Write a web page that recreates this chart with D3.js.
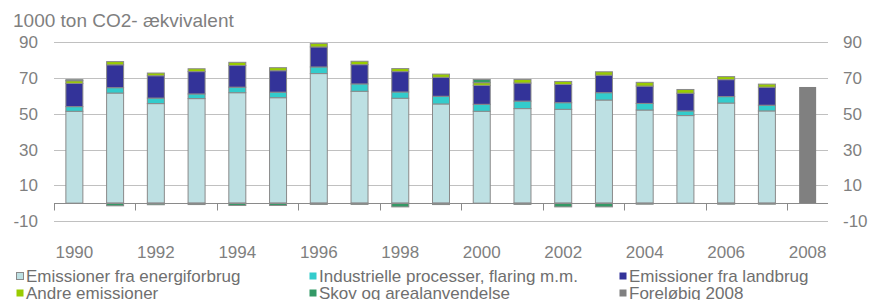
<!DOCTYPE html>
<meta charset="utf-8">
<script src="https://d3js.org/d3.v7.min.js"></script>
<style>
    body { margin: 0; background: #fff; }
    text { font-family: "Liberation Sans", Arial, sans-serif; }
</style>
<div id="chart"></div>
<script>
    var width = 870
    var height = 300

    // data (1000 ton CO2-eq)
    var years = [1990, 1991, 1992, 1993, 1994, 1995, 1996, 1997, 1998, 1999,
                 2000, 2001, 2002, 2003, 2004, 2005, 2006, 2007, 2008]
    var energi    = [51.4, 61.6, 55.7, 58.5, 61.8, 59.0, 72.5, 62.6, 58.7, 55.5, 51.4, 52.9, 52.5, 57.7, 52.1, 49.0, 56.0, 51.6, 0]
    var industri  = [2.6, 3.0, 3.1, 2.6, 3.1, 3.1, 3.7, 4.1, 3.5, 4.3, 3.9, 4.2, 3.7, 4.1, 3.7, 2.6, 3.6, 3.2, 0]
    var landbrug  = [13.0, 12.8, 12.5, 12.5, 12.1, 12.0, 11.2, 10.8, 11.4, 10.6, 10.6, 10.1, 10.2, 9.8, 9.7, 9.9, 9.5, 10.1, 0]
    var andre     = [1.5, 1.8, 1.5, 1.6, 1.8, 1.7, 1.9, 1.9, 1.7, 1.8, 1.5, 2.0, 1.7, 1.9, 2.1, 2.1, 1.7, 1.7, 0]
    var skov      = [0.6, -1.5, -0.9, -0.8, -1.3, -1.3, -0.7, -0.7, -2.1, -0.8, 1.8, -0.7, -2.1, -2.1, -0.6, 0, -0.6, -0.6, 0]
    var forelobig = [0, 0, 0, 0, 0, 0, 0, 0, 0, 0, 0, 0, 0, 0, 0, 0, 0, 0, 65.0]

    var yTicks = [90, 70, 50, 30, 10, -10]
    var xLabels = [1990, 1992, 1994, 1996, 1998, 2000, 2002, 2004, 2006, 2008]

    var series = [
        { key: "energi", name: "Emissioner fra energiforbrug", color: "#bde0e3", values: energi },
        { key: "industri", name: "Industrielle processer, flaring m.m.", color: "#33cccc", values: industri },
        { key: "landbrug", name: "Emissioner fra landbrug", color: "#333399", values: landbrug },
        { key: "andre", name: "Andre emissioner", color: "#99cc00", values: andre },
        { key: "skov", name: "Skov og arealanvendelse", color: "#339966", values: skov },
        { key: "forelobig", name: "Foreløbig 2008", color: "#808080", values: forelobig }
    ]

    var rows = years.map(function (y, i) {
        var r = { year: y }
        series.forEach(function (s) { r[s.key] = s.values[i] })
        return r
    })

    var svg = d3.select("#chart").append("svg")
        .attr("width", width)
        .attr("height", height)

    var x = d3.scaleBand()
        .domain(years)
        .range([54, 828])

    var y = d3.scaleLinear()
        .domain([-10, 90])
        .range([221, 42.3])

    var textColor = "#7f7f7f"

    // gridlines
    svg.append("g")
        .selectAll("line")
        .data(yTicks)
        .enter().append("line")
        .attr("x1", 54)
        .attr("x2", 828)
        .attr("y1", function (d) { return Math.round(y(d)) + 0.5 })
        .attr("y2", function (d) { return Math.round(y(d)) + 0.5 })
        .attr("stroke", "#c0c0c0")
        .attr("stroke-width", 1)

    // left + right value labels
    svg.append("g")
        .selectAll("text")
        .data(yTicks)
        .enter().append("text")
        .attr("x", 38)
        .attr("y", function (d) { return y(d) + 6 })
        .attr("text-anchor", "end")
        .attr("font-size", 17)
        .attr("fill", textColor)
        .text(function (d) { return d })

    svg.append("g")
        .selectAll("text")
        .data(yTicks)
        .enter().append("text")
        .attr("x", 843)
        .attr("y", function (d) { return y(d) + 6 })
        .attr("font-size", 17)
        .attr("fill", textColor)
        .text(function (d) { return d })

    // stacked bars
    var stack = d3.stack()
        .keys(series.map(function (s) { return s.key }))
        .offset(d3.stackOffsetDiverging)

    var stacked = stack(rows)
    var barW = 17

    svg.append("g")
        .selectAll("g")
        .data(stacked)
        .enter().append("g")
        .attr("fill", function (d, i) { return series[i].color })
        .attr("stroke", function (d, i) { return series[i].key == "forelobig" ? "none" : "#8a8a8a" })
        .attr("stroke-width", 1)
        .selectAll("rect")
        .data(function (d) { return d.filter(function (p) { return p[1] - p[0] != 0 }) })
        .enter().append("rect")
        .attr("x", function (d) { return x(d.data.year) + x.bandwidth() / 2 - barW / 2 })
        .attr("width", barW)
        .attr("y", function (d) { return y(Math.max(d[0], d[1])) })
        .attr("height", function (d) { return Math.abs(y(d[0]) - y(d[1])) })

    // category axis at zero
    var zeroY = Math.round(y(0)) + 0.5
    svg.append("line")
        .attr("x1", 54)
        .attr("x2", 828)
        .attr("y1", zeroY)
        .attr("y2", zeroY)
        .attr("stroke", "#8a8a8a")

    svg.append("g")
        .selectAll("line")
        .data(years.filter(function (d, i) { return i % 2 == 0 }))
        .enter().append("line")
        .attr("x1", function (d) { return Math.round(x(d)) + 0.5 })
        .attr("x2", function (d) { return Math.round(x(d)) + 0.5 })
        .attr("y1", zeroY)
        .attr("y2", zeroY + 7)
        .attr("stroke", "#8a8a8a")

    svg.append("g")
        .selectAll("text")
        .data(xLabels)
        .enter().append("text")
        .attr("x", function (d) { return x(d) + x.bandwidth() / 2 })
        .attr("y", 258)
        .attr("text-anchor", "middle")
        .attr("font-size", 17)
        .attr("fill", textColor)
        .text(function (d) { return d })

    // title
    svg.append("text")
        .attr("x", 13)
        .attr("y", 27)
        .attr("font-size", 19)
        .attr("fill", textColor)
        .text("1000 ton CO2- ækvivalent")

    // legend
    var legendPos = [[16, 272], [309, 272], [619, 272], [16, 289], [309, 289], [619, 289]]

    var legend = svg.append("g")
        .selectAll("g")
        .data(series)
        .enter().append("g")
        .attr("transform", function (d, i) { return "translate(" + legendPos[i][0] + "," + legendPos[i][1] + ")" })

    legend.append("rect")
        .attr("x", 0.5)
        .attr("y", 0.5)
        .attr("width", 7)
        .attr("height", 7)
        .attr("fill", function (d) { return d.color })
        .attr("stroke", function (d) { return d.key == "energi" ? "#8a8a8a" : "none" })

    legend.append("text")
        .attr("x", 10)
        .attr("y", 9.5)
        .attr("font-size", 17)
        .attr("fill", "#6f6f6f")
        .text(function (d) { return d.name })
</script>
